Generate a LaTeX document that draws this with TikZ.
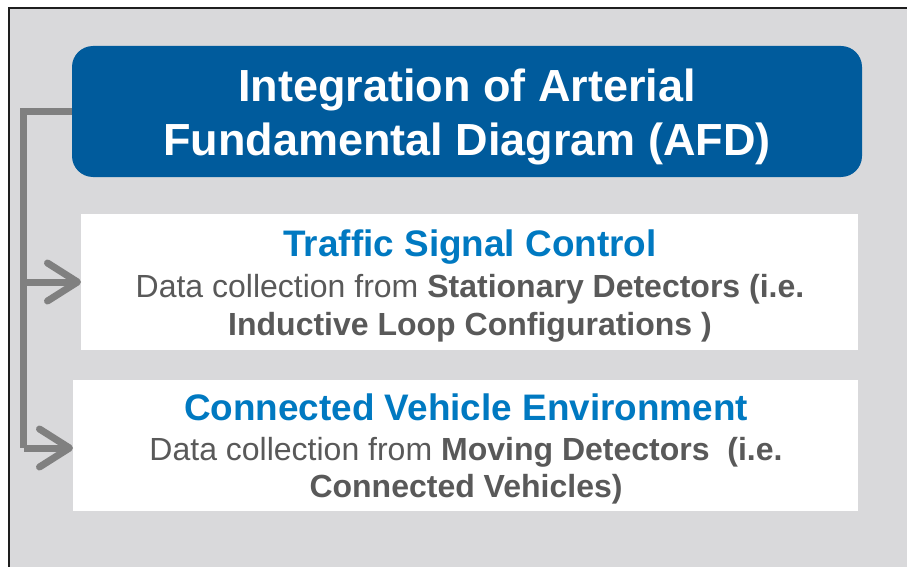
\documentclass[tikz,border=0pt]{standalone}
\usepackage{fontspec}
\setmainfont{Liberation Sans}
\usetikzlibrary{arrows.meta}
\definecolor{bgray}{RGB}{217,217,219}
\definecolor{framec}{RGB}{30,30,30}
\definecolor{afdblue}{RGB}{0,91,156}
\definecolor{headblue}{RGB}{0,121,193}
\definecolor{bodygray}{RGB}{89,89,89}
\definecolor{conngray}{RGB}{128,128,128}
\tikzset{
  bluebox/.style={fill=afdblue, draw=none, rounded corners=21pt, inner sep=0pt, outer sep=0pt},
  whitebox/.style={fill=white, draw=none, inner sep=0pt, outer sep=0pt},
  titletext/.style={text=white, font=\fontsize{45}{54}\selectfont\bfseries, inner sep=0pt, anchor=base},
  headtext/.style={text=headblue, font=\fontsize{36.9}{44}\selectfont\bfseries, inner sep=0pt, anchor=base},
  bodytext/.style={text=bodygray, font=\fontsize{32}{38}\selectfont, inner sep=0pt, anchor=base},
  conn/.style={draw=conngray, line width=7pt, line join=miter},
  connarrow/.style={conn, -{Straight Barb[length=30pt, width=38pt, round]}},
}
\begin{document}
\begin{tikzpicture}[x=1pt,y=-1pt]
\useasboundingbox (0,0) rectangle (907,567);
\fill[white] (0,0) rectangle (907,567);
\begin{scope}
\clip (0,0) rectangle (907,567);
\draw[fill=bgray, draw=framec, line width=2pt] (9,8) rectangle (940,600);
\end{scope}

\node[bluebox, minimum width=790pt, minimum height=131pt] (afd) at (467,111.5) {};
\node[whitebox, minimum width=777pt, minimum height=136pt] (tsc) at (469.5,282) {};
\node[whitebox, minimum width=785pt, minimum height=131pt] (cve) at (465.5,445.5) {};

\node[titletext] (ta) at (467,102) {Integration of Arterial};
\node[titletext] (tb) at (467,155) {Fundamental Diagram (AFD)};

\node[headtext] (h1) at (470,256) {Traffic Signal Control};
\node[bodytext] (b1a) at (470,297) {Data collection from \textbf{Stationary Detectors (i.e.}};
\node[bodytext] (b1b) at (470,335) {\textbf{Inductive Loop Configurations )}};

\node[headtext] (h2) at (466,420) {Connected Vehicle Environment};
\node[bodytext] (b2a) at (466,460) {Data collection from \textbf{Moving Detectors~~(i.e.}};
\node[bodytext] (b2b) at (466,497) {\textbf{Connected Vehicles)}};

\coordinate (spine) at (23.7,448);
\draw[conn] (afd.west) -| (spine);
\draw[connarrow] (spine |- tsc.west) -- (tsc.west);
\draw[connarrow] (spine) -- (cve.west |- spine);
\end{tikzpicture}
\end{document}
